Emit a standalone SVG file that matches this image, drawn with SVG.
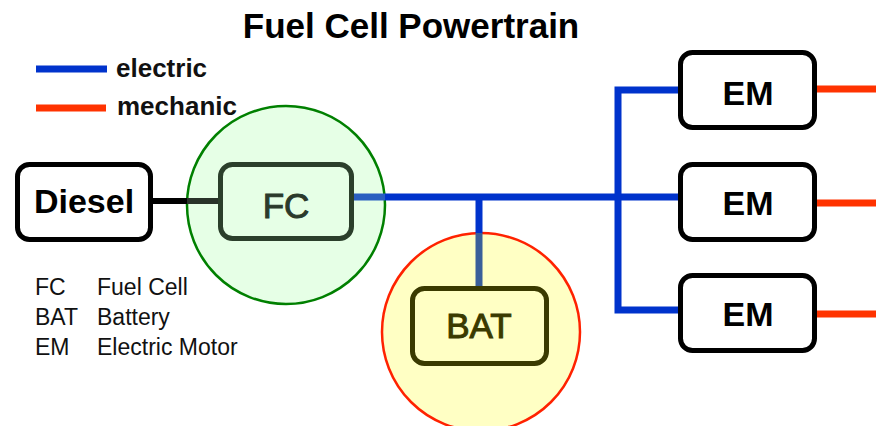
<svg xmlns="http://www.w3.org/2000/svg" width="876" height="426" viewBox="0 0 876 426">
<style>
text{font-family:"Liberation Sans",Arial,sans-serif;}
.title{font-size:35px;font-weight:bold;fill:#000;}
.leg{font-size:26px;font-weight:bold;fill:#111;}
.abbr{font-size:23px;fill:#111;}
.box{fill:#fff;stroke:#000;stroke-width:5;}
.lbl{font-size:34px;font-weight:bold;fill:#000;text-anchor:middle;}
.el{stroke:#0033cc;stroke-width:7;fill:none;}
.mech{stroke:#ff3300;stroke-width:7;fill:none;}
</style>
<rect width="876" height="426" fill="#fff"/>
<text class="title" x="411" y="38" text-anchor="middle">Fuel Cell Powertrain</text>
<g id="legend">
<line class="el" x1="36" y1="69" x2="107" y2="69"/>
<text class="leg" x="116" y="77">electric</text>
<line class="mech" x1="36" y1="108" x2="106" y2="108"/>
<text class="leg" x="117" y="115">mechanic</text>
<text class="abbr" x="35" y="295">FC</text>
<text class="abbr" x="97" y="295">Fuel Cell</text>
<text class="abbr" x="35" y="325">BAT</text>
<text class="abbr" x="97" y="325">Battery</text>
<text class="abbr" x="35" y="355">EM</text>
<text class="abbr" x="97" y="355">Electric Motor</text>
</g>
<g id="fc-zone"><circle cx="286" cy="205" r="99" fill="#e6ffe6" stroke="#008000" stroke-width="2.5"/></g>
<g id="bat-zone"><circle cx="481" cy="332" r="99" fill="#ffffc4" stroke="#ff2200" stroke-width="2.5"/></g>
<g id="connectors">
<line x1="152" y1="201" x2="187" y2="201" stroke="#000" stroke-width="6"/>
<line x1="187" y1="201" x2="219" y2="201" stroke="#293329" stroke-width="6"/>
<line x1="354" y1="197" x2="385" y2="197" stroke="#2a5fc0" stroke-width="7"/>
<line class="el" x1="385" y1="197" x2="680" y2="197"/>
<line class="el" x1="479" y1="197" x2="479" y2="233"/>
<line x1="479" y1="233" x2="479" y2="288" stroke="#3a5f9a" stroke-width="7"/>
<path class="el" d="M680,90 H618 V310 H680"/>
<line class="mech" x1="817" y1="89" x2="876" y2="89"/>
<line class="mech" x1="817" y1="203" x2="876" y2="203"/>
<line class="mech" x1="817" y1="314" x2="876" y2="314"/>
</g>
<g id="diesel">
<rect class="box" x="17.5" y="164.5" width="133" height="75" rx="12"/>
<text class="lbl" x="84" y="213">Diesel</text>
</g>
<g id="fc">
<rect x="220.5" y="164.5" width="131" height="74" rx="12" fill="#e6ffe6" stroke="#2b3f2b" stroke-width="5"/>
<text x="286" y="218" font-size="35" fill="#2b3a2b" stroke="#2b3a2b" stroke-width="1" text-anchor="middle">FC</text>
</g>
<g id="bat">
<rect x="412.5" y="288.5" width="134" height="75" rx="12" fill="#ffffc4" stroke="#3a3a00" stroke-width="5"/>
<text x="479" y="338" font-size="35" fill="#3a3a00" stroke="#3a3a00" stroke-width="1" text-anchor="middle">BAT</text>
</g>
<g id="em1">
<rect class="box" x="680.5" y="52.5" width="134" height="75" rx="12"/>
<text class="lbl" x="748" y="105">EM</text>
</g>
<g id="em2">
<rect class="box" x="680.5" y="164.5" width="134" height="75" rx="12"/>
<text class="lbl" x="748" y="215">EM</text>
</g>
<g id="em3">
<rect class="box" x="680.5" y="275.5" width="134" height="75" rx="12"/>
<text class="lbl" x="748" y="326">EM</text>
</g>
</svg>
